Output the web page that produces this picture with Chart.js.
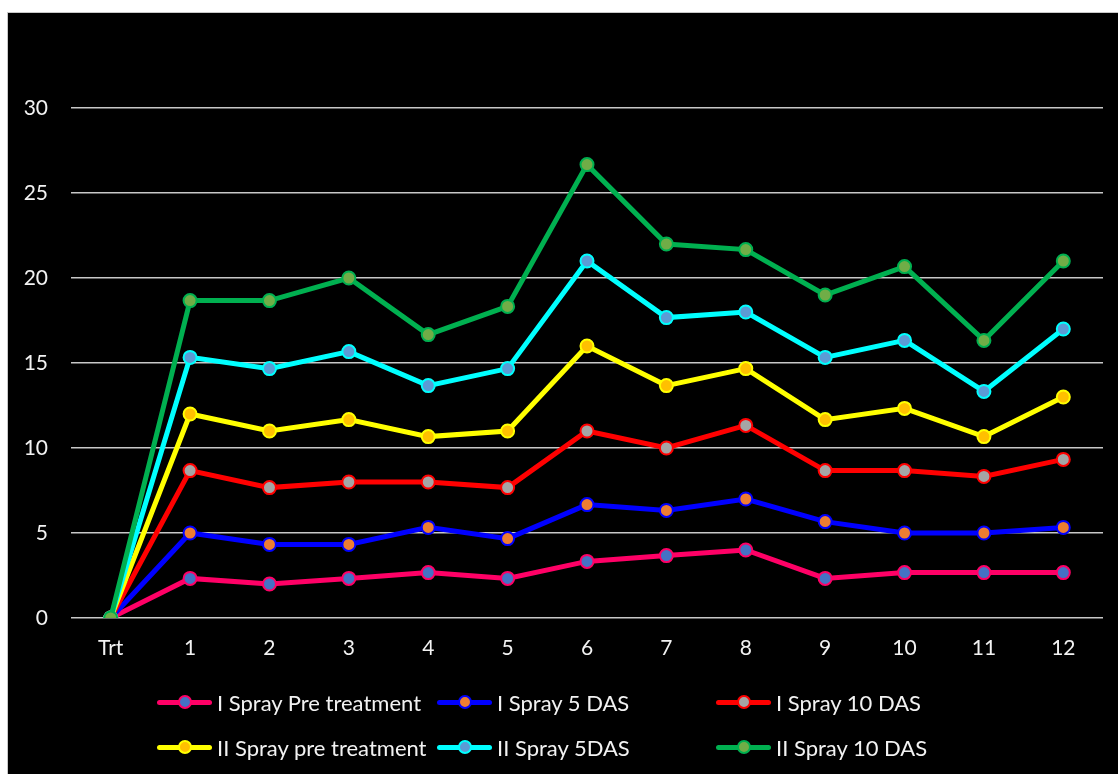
<!DOCTYPE html>
<html>
<head>
<meta charset="utf-8">
<script src="https://cdn.jsdelivr.net/npm/chart.js@4/dist/chart.umd.min.js"></script>
<style>
  html, body { margin: 0; padding: 0; background: #ffffff; width: 1118px; height: 774px; overflow: hidden; }
  #panel { position: absolute; left: 7px; top: 12px; width: 1120px; height: 780px; background: #000; border: 1px solid #c8c8c8; box-sizing: border-box; }
  #chart { position: absolute; left: 8px; top: 13px; }
  #legend { position: absolute; left: 0; top: 0; width: 1118px; height: 774px; pointer-events: none; }
  .item { position: absolute; height: 26px; display: flex; align-items: center; font-family: Lato, "Open Sans", sans-serif; font-size: 22px; color: #f2f2f2; white-space: nowrap; }
  .sym { position: relative; width: 55px; height: 26px; margin-right: 5px; }
  .sym .ln { position: absolute; left: 0; top: 10.5px; width: 55px; height: 5px; border-radius: 2.5px; }
  .sym .dot { position: absolute; left: 20.5px; top: 6px; width: 10px; height: 10px; border-radius: 50%; border-width: 2px; border-style: solid; }
</style>
</head>
<body>
<div id="panel"></div>
<canvas id="chart" width="1110" height="645"></canvas>
<div id="legend"></div>
<script>
// Categories along the x axis
const categories = ['Trt', '1', '2', '3', '4', '5', '6', '7', '8', '9', '10', '11', '12'];

// Series names
const seriesNames = [
  'I Spray Pre treatment',
  'I Spray 5 DAS',
  'I Spray 10 DAS',
  'II Spray pre treatment',
  'II Spray 5DAS',
  'II Spray 10 DAS'
];

// Series values
const spray1Pre   = [0, 2.33, 2.00, 2.33, 2.67, 2.33, 3.33, 3.67, 4.00, 2.33, 2.67, 2.67, 2.67];
const spray1Das5  = [0, 5.00, 4.33, 4.33, 5.33, 4.67, 6.67, 6.33, 7.00, 5.67, 5.00, 5.00, 5.33];
const spray1Das10 = [0, 8.67, 7.67, 8.00, 8.00, 7.67, 11.00, 10.00, 11.33, 8.67, 8.67, 8.33, 9.33];
const spray2Pre   = [0, 12.00, 11.00, 11.67, 10.67, 11.00, 16.00, 13.67, 14.67, 11.67, 12.33, 10.67, 13.00];
const spray2Das5  = [0, 15.33, 14.67, 15.67, 13.67, 14.67, 21.00, 17.67, 18.00, 15.33, 16.33, 13.33, 17.00];
const spray2Das10 = [0, 18.67, 18.67, 20.00, 16.67, 18.33, 26.67, 22.00, 21.67, 19.00, 20.67, 16.33, 21.00];

// Value axis ticks
const yTicks = [0, 5, 10, 15, 20, 25, 30];

const seriesValues = [spray1Pre, spray1Das5, spray1Das10, spray2Pre, spray2Das5, spray2Das10];
const lineColors   = ['#ff0066', '#0000ff', '#ff0000', '#ffff00', '#00ffff', '#00b050'];
const markerFills  = ['#4472c4', '#ed7d31', '#a5a5a5', '#ffc000', '#5b9bd5', '#70ad47'];

const FONT = 'Lato, "Open Sans", sans-serif';

const datasets = seriesValues.map((vals, i) => ({
  label: seriesNames[i],
  data: vals,
  borderColor: lineColors[i],
  backgroundColor: markerFills[i],
  pointBackgroundColor: markerFills[i],
  pointBorderColor: lineColors[i],
  borderWidth: 5,
  pointRadius: 6.5,
  pointBorderWidth: 2,
  pointHoverRadius: 6.5,
  tension: 0,
  fill: false,
  // later series sit on top
  order: seriesValues.length - 1 - i
}));

new Chart(document.getElementById('chart'), {
  type: 'line',
  data: { labels: categories, datasets },
  options: {
    responsive: false,
    animation: false,
    layout: { padding: { left: 0, right: 15, top: 95, bottom: 0 } },
    plugins: {
      legend: { display: false },
      tooltip: { enabled: false }
    },
    scales: {
      x: {
        offset: true,
        grid: { display: false, drawTicks: false },
        border: { display: false },
        ticks: { color: '#f2f2f2', font: { family: FONT, size: 21 }, padding: 18, maxRotation: 0 },
        afterFit(scale) { scale.height = 40; }
      },
      y: {
        min: 0,
        max: 30,
        afterBuildTicks(scale) { scale.ticks = yTicks.map(v => ({ value: v })); },
        grid: { color: '#c8c8c8', lineWidth: 1.6, drawTicks: false },
        border: { display: false },
        ticks: { color: '#f2f2f2', font: { family: FONT, size: 21 }, padding: 23 },
        afterFit(scale) { scale.width = 63; }
      }
    }
  }
});

// Legend laid out in three fixed columns, two rows
const legend = document.getElementById('legend');
const colX = [157, 437, 716];
const rowY = [702, 747];
seriesNames.forEach((name, i) => {
  const item = document.createElement('div');
  item.className = 'item';
  item.style.left = colX[i % 3] + 'px';
  item.style.top = (rowY[Math.floor(i / 3)] - 13) + 'px';
  const sym = document.createElement('div');
  sym.className = 'sym';
  const ln = document.createElement('div');
  ln.className = 'ln';
  ln.style.background = lineColors[i];
  const dot = document.createElement('div');
  dot.className = 'dot';
  dot.style.background = markerFills[i];
  dot.style.borderColor = lineColors[i];
  sym.appendChild(ln);
  sym.appendChild(dot);
  const txt = document.createElement('span');
  txt.textContent = name;
  item.appendChild(sym);
  item.appendChild(txt);
  legend.appendChild(item);
});
</script>
</body>
</html>
